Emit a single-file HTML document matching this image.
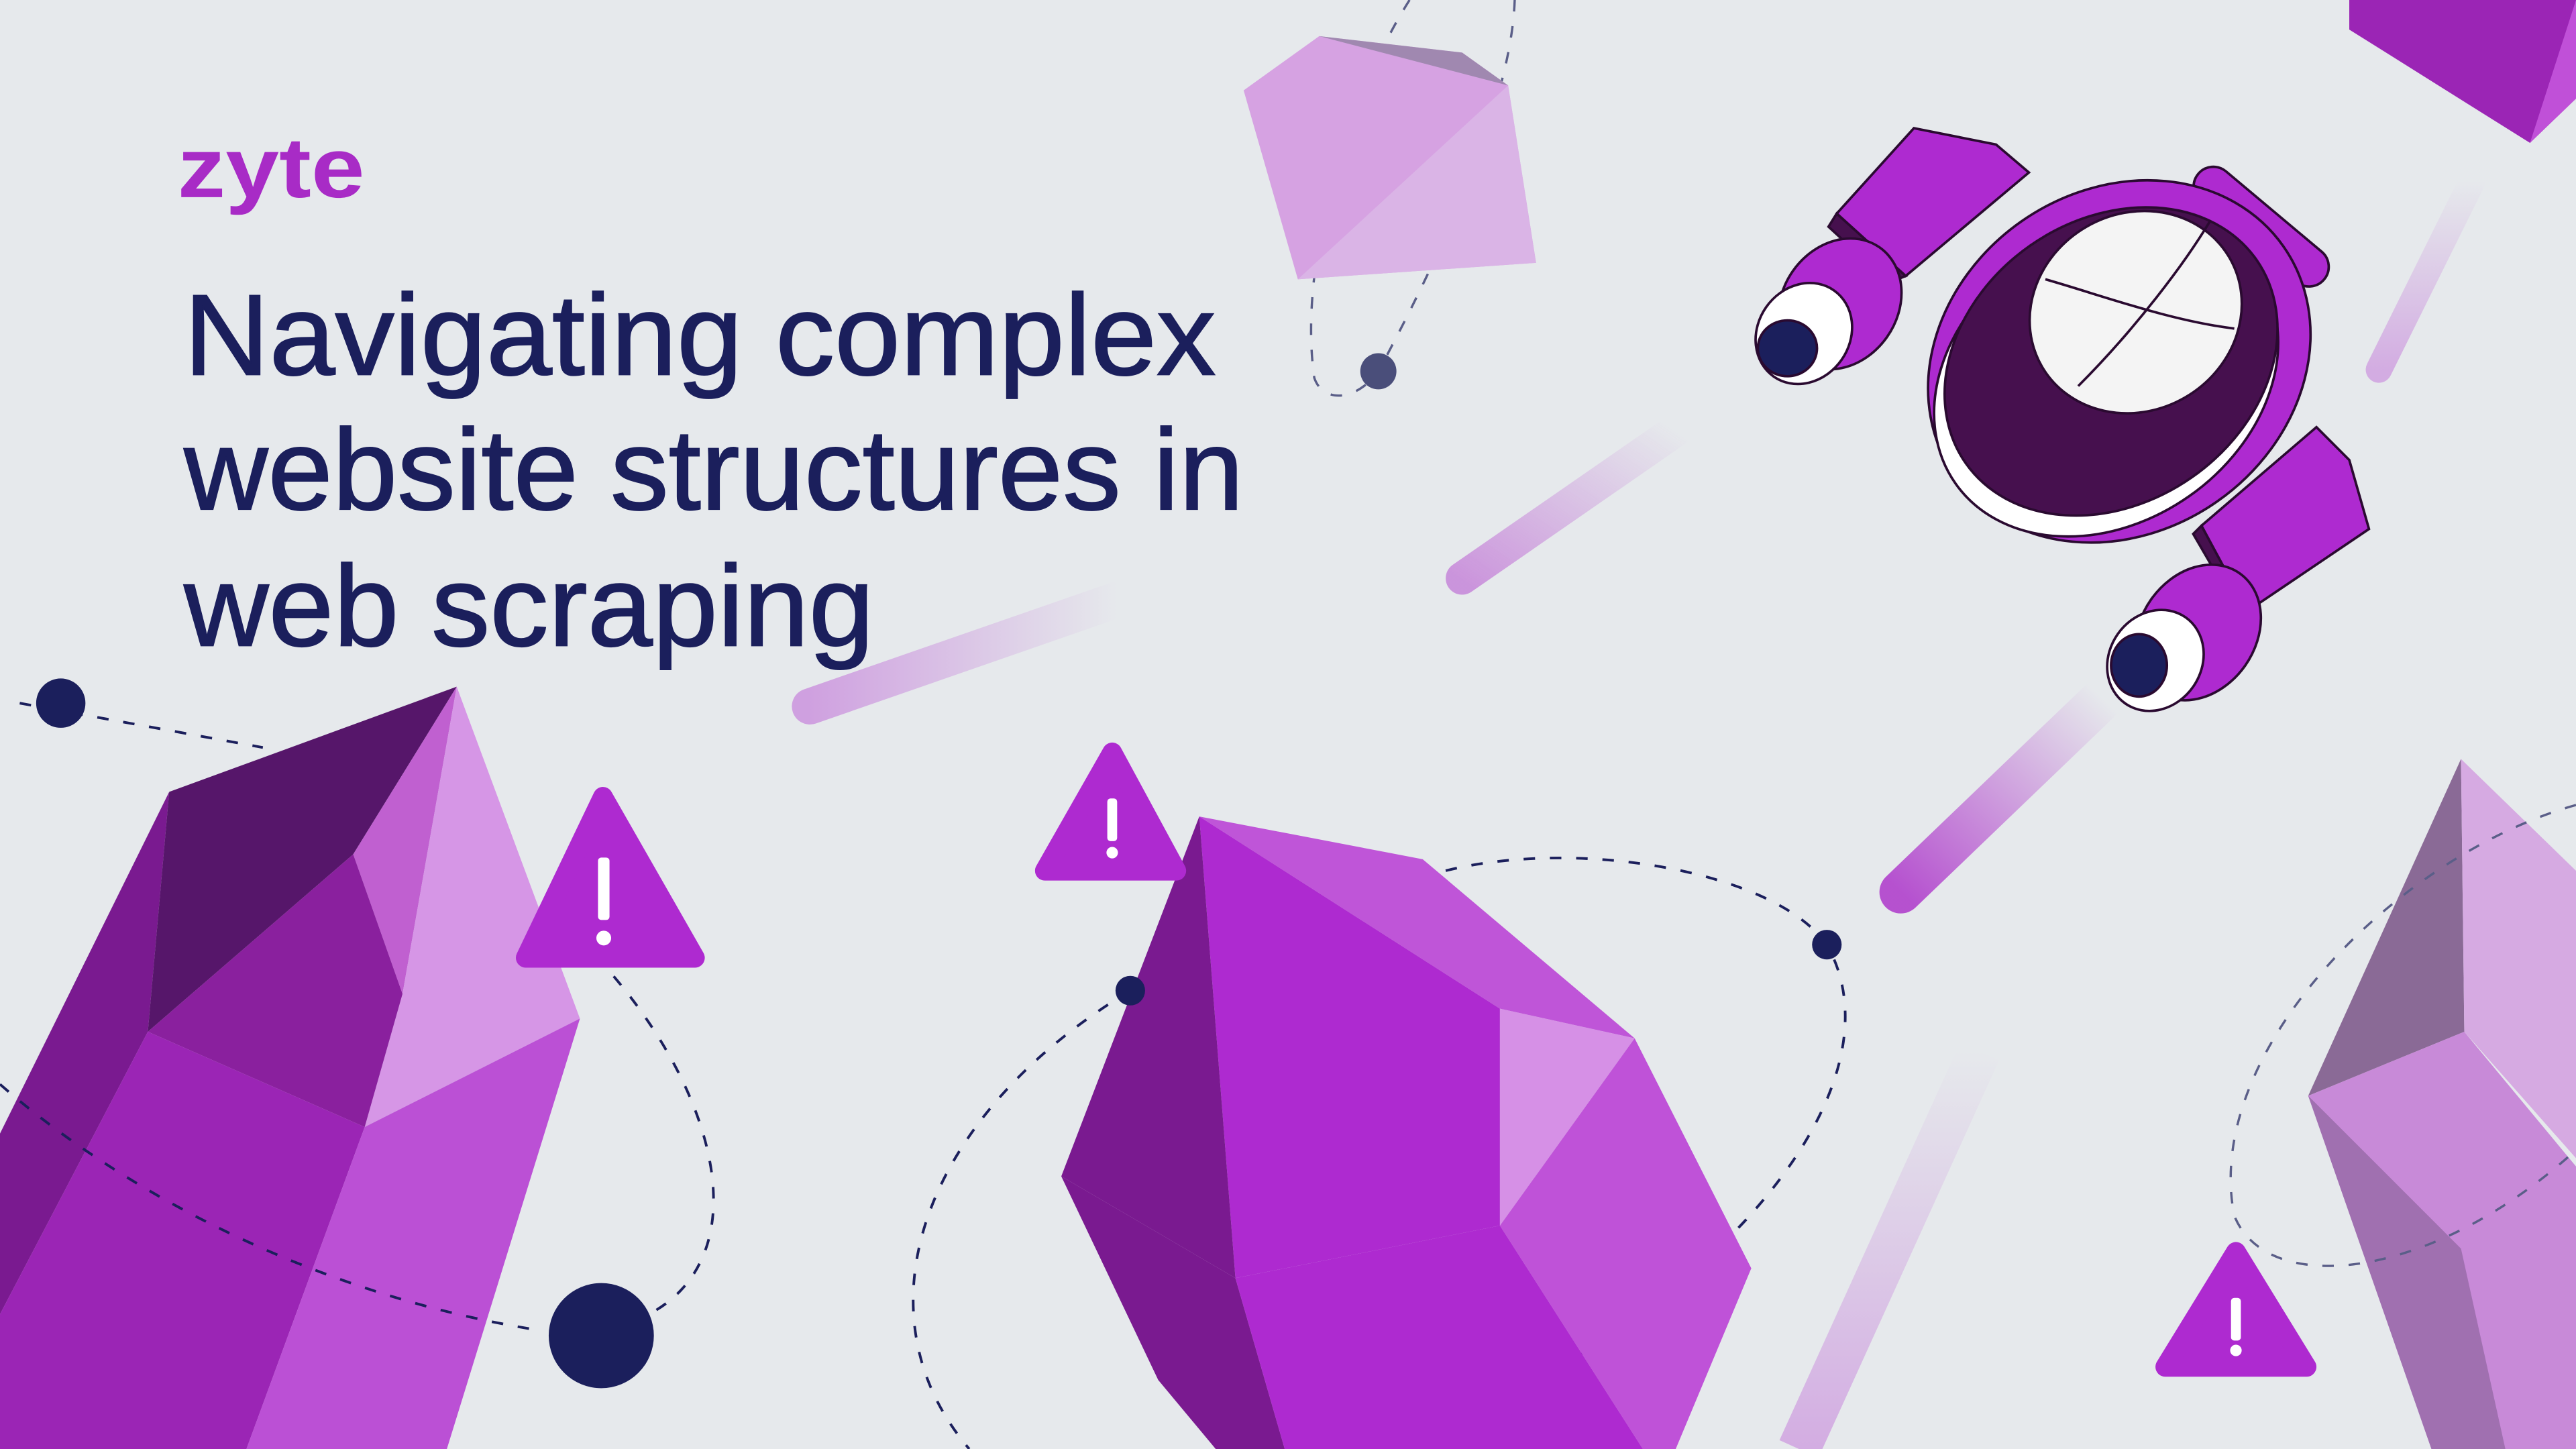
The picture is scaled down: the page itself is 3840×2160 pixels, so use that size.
<!DOCTYPE html>
<html><head><meta charset="utf-8"><style>
html,body{margin:0;padding:0;background:#e6e9ec;}
svg{display:block;}
</style></head><body>
<svg width="3840" height="2160" viewBox="0 0 1568 882" xmlns="http://www.w3.org/2000/svg">
<defs>
<linearGradient id="s1" x1="0" y1="1" x2="1" y2="0"><stop offset="0" stop-color="#b040cc" stop-opacity="0.9"/><stop offset="1" stop-color="#b040cc" stop-opacity="0"/></linearGradient>
<linearGradient id="s2" x1="0" y1="0" x2="1" y2="0"><stop offset="0" stop-color="#c070d8" stop-opacity="0.6"/><stop offset="1" stop-color="#c070d8" stop-opacity="0"/></linearGradient>
<linearGradient id="s3" x1="0" y1="1" x2="0" y2="0"><stop offset="0" stop-color="#c070d8" stop-opacity="0.5"/><stop offset="1" stop-color="#c070d8" stop-opacity="0"/></linearGradient>
</defs>
<rect width="1568" height="882" fill="#e6e9ec"/>

<line x1="493" y1="430" x2="680" y2="365" stroke="url(#s2)" stroke-width="22" stroke-linecap="round"/>
<line x1="890" y1="352" x2="1020" y2="262" stroke="url(#s1)" stroke-width="20" stroke-linecap="round" opacity="0.55"/>
<line x1="1157" y1="543" x2="1280" y2="425" stroke="url(#s1)" stroke-width="26" stroke-linecap="round"/>
<line x1="1448" y1="225" x2="1505" y2="110" stroke="url(#s3)" stroke-width="16" stroke-linecap="round"/>
<line x1="1095" y1="882" x2="1205" y2="640" stroke="url(#s3)" stroke-width="26"/>

<g fill="none" stroke="#1b1f5c" stroke-width="1.6" stroke-dasharray="7 9">
<path d="M12,428 L160,455"/>
<path d="M688,603 C560,680 520,800 590,882"/>
<path d="M880,530 C960,510 1080,530 1112,575 C1160,660 1050,800 850,882"/>
</g>
<g fill="none" stroke="#5a5e88" stroke-width="1.4" stroke-dasharray="7 9">
<path d="M922,0 C920,60 880,150 839,226"/>
<path d="M858,0 C820,60 790,160 800,230 C805,245 825,245 839,226"/>
</g>

<polygon points="757,55 803,22 890,32 918,52 935,160 790,170" fill="#d6a2e2"/>
<polygon points="803,22 890,32 918,52" fill="#a088b0"/>
<polygon points="918,52 935,160 790,170" fill="#dab4e6"/>

<polygon points="1430,0 1568,0 1568,60 1540,87 1430,18" fill="#9b25b5"/>
<polygon points="1540,87 1568,0 1568,60" fill="#c050d8"/>

<polygon points="0,690 103,482 90,628 0,800" fill="#7a1a90"/>
<polygon points="103,482 278,418 215,520 90,628" fill="#56166a"/>
<polygon points="215,520 278,418 245,605" fill="#c060d0"/>
<polygon points="278,418 353,620 222,686 245,605" fill="#d696e6"/>
<polygon points="90,628 215,520 245,605 222,686" fill="#8a209e"/>
<polygon points="0,800 90,628 222,686 150,882 0,882" fill="#9b25b5"/>
<polygon points="222,686 353,620 272,882 150,882" fill="#bb50d5"/>

<polygon points="730,497 866,523 995,632 913,614" fill="#bf55d8"/>
<polygon points="730,497 913,614 913,746 752,778" fill="#ae2ad0"/>
<polygon points="913,614 995,632 913,746" fill="#d690e6"/>
<polygon points="995,632 1066,772 1020,882 1000,882 913,746" fill="#bf52d8"/>
<polygon points="730,497 646,716 752,778" fill="#7a1a90"/>
<polygon points="646,716 752,778 782,882 740,882 705,840" fill="#7a1a90"/>
<polygon points="752,778 913,746 1000,882 782,882" fill="#ae2ad0"/>

<polygon points="1498,462 1500,628 1405,667" fill="#8a6a96"/>
<polygon points="1498,462 1568,530 1568,705 1500,628" fill="#d6aae2"/>
<polygon points="1405,667 1500,628 1568,710 1568,882 1480,882" fill="#c88ad8"/>
<polygon points="1405,667 1498,760 1525,882 1480,882" fill="#a070b0"/>

<g fill="none" stroke="#1b1f5c" stroke-width="1.6" stroke-dasharray="7 9">
<path d="M0,660 C80,730 200,790 330,810"/>
<path d="M340,560 C430,640 470,760 395,800"/>
</g>
<g fill="none" stroke="#5a5e88" stroke-width="1.4" stroke-dasharray="7 9">
<path d="M1568,490 C1460,520 1340,640 1360,740 C1380,790 1480,780 1568,700"/>
</g>

<g fill="#ae2ad0" stroke="#ae2ad0" stroke-width="12" stroke-linejoin="round">
<polygon points="367,485 423,583 320,583"/>
<polygon points="677,458 716,530 636,530"/>
<polygon points="1361,762 1404,832 1318,832"/>
</g>
<g fill="#fff">
<rect x="364" y="522" width="7" height="38" rx="2"/><circle cx="367.5" cy="571" r="4.5"/>
<rect x="674" y="486" width="6" height="26" rx="2"/><circle cx="677" cy="519" r="3.5"/>
<rect x="1358" y="790" width="6" height="26" rx="2"/><circle cx="1361" cy="822" r="3.5"/>
</g>

<circle cx="37" cy="428" r="15" fill="#1b1f5c"/>
<circle cx="366" cy="813" r="32" fill="#1b1f5c"/>
<circle cx="688" cy="603" r="9" fill="#1b1f5c"/>
<circle cx="1112" cy="575" r="9" fill="#1b1f5c"/>
<circle cx="839" cy="226" r="11" fill="#4a4e7a"/>

<g stroke="#2a0a30" stroke-width="1.5">
<polygon points="1165,78 1215,88 1235,105 1160,168 1118,130" fill="#ae2ad0"/>
<polygon points="1118,130 1160,168 1150,172 1113,138" fill="#46104e"/>
<polygon points="1410,260 1430,280 1442,322 1368,372 1340,320" fill="#ae2ad0"/>
<polygon points="1340,320 1368,372 1360,368 1335,325" fill="#46104e"/>
<rect x="1330" y="120" width="100" height="24" rx="12" transform="rotate(40 1370 130)" fill="#ae2ad0"/>
<ellipse cx="1290" cy="220" rx="122" ry="104" transform="rotate(-35 1290 220)" fill="#ae2ad0"/>
<ellipse cx="1282" cy="230" rx="112" ry="88" transform="rotate(-35 1282 230)" fill="#fff"/>
<ellipse cx="1285" cy="220" rx="108" ry="86" transform="rotate(-35 1285 220)" fill="#46104e"/>
<ellipse cx="1300" cy="190" rx="66" ry="60" transform="rotate(-30 1300 190)" fill="#f4f4f4"/>
<path d="M1265,235 C1300,200 1330,160 1345,135" fill="none"/>
<path d="M1245,170 C1280,180 1320,195 1360,200" fill="none"/>
<ellipse cx="1120" cy="185" rx="35" ry="42" transform="rotate(35 1120 185)" fill="#ae2ad0"/>
<ellipse cx="1098" cy="203" rx="28" ry="32" transform="rotate(35 1098 203)" fill="#fff"/>
<ellipse cx="1088" cy="212" rx="18" ry="17" fill="#1b1f5c"/>
<ellipse cx="1338" cy="385" rx="35" ry="44" transform="rotate(35 1338 385)" fill="#ae2ad0"/>
<ellipse cx="1312" cy="402" rx="28" ry="32" transform="rotate(35 1312 402)" fill="#fff"/>
<ellipse cx="1302" cy="405" rx="17" ry="19" fill="#1b1f5c"/>
</g>

<text x="108" y="120" font-family="Liberation Sans, sans-serif" font-size="52" font-weight="bold" fill="#a82bc6" textLength="114" lengthAdjust="spacingAndGlyphs">zyte</text>
<g font-family="Liberation Sans, sans-serif" font-size="70" fill="#1b1f5c" stroke="#1b1f5c" stroke-width="0.8">
<text x="112" y="228" textLength="628" lengthAdjust="spacingAndGlyphs">Navigating complex</text>
<text x="112" y="310" textLength="645" lengthAdjust="spacingAndGlyphs">website structures in</text>
<text x="112" y="393" textLength="420" lengthAdjust="spacingAndGlyphs">web scraping</text>
</g>
</svg>
</body></html>
